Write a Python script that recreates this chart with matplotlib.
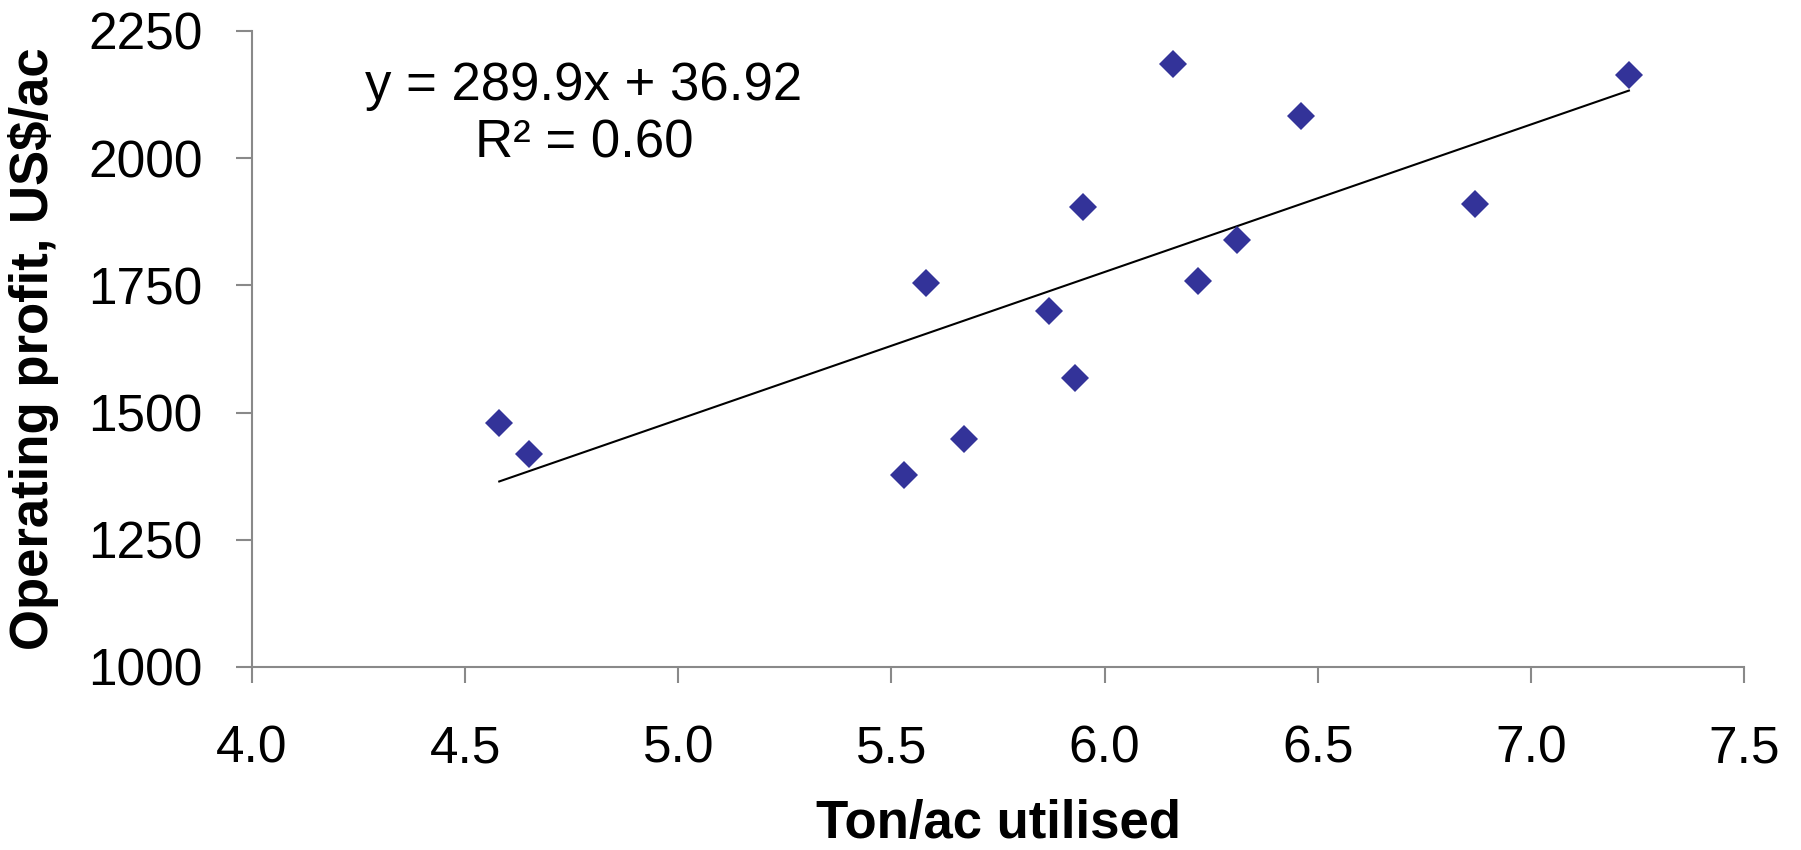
import matplotlib
matplotlib.use("Agg")
import matplotlib.pyplot as plt
import numpy as np

plt.rcParams['font.family'] = ['Liberation Sans', 'DejaVu Sans']

# Data
ton_per_ac = [4.58, 4.65, 5.53, 5.58, 5.67, 5.87, 5.93, 5.95, 6.16, 6.22, 6.31, 6.46, 6.87, 7.23]
profit_usd_per_ac = [1480, 1418, 1378, 1755, 1449, 1700, 1568, 1905, 2186, 1758, 1840, 2083, 1910, 2163]

# Trendline (as displayed on the chart)
slope = 289.9
intercept = 36.92
r_squared = 0.60

x_ticks = [4.0, 4.5, 5.0, 5.5, 6.0, 6.5, 7.0, 7.5]
y_ticks = [1000, 1250, 1500, 1750, 2000, 2250]

fig = plt.figure(figsize=(18.01, 8.5), dpi=100)
ax = fig.add_axes([252/1801, 1 - 667/850, (1744-252)/1801, (667-31)/850])

x = np.array(ton_per_ac)
y = np.array(profit_usd_per_ac)

# trend line over the data range
xl = np.array([x.min(), x.max()])
ax.plot(xl, slope * xl + intercept, color='black', lw=1.5, zorder=2)

ax.plot(x, y, linestyle='none', marker='D', markersize=14.3,
        markerfacecolor='#333399', markeredgecolor='#333399', markeredgewidth=0, zorder=3)

ax.set_xlim(4.0, 7.5)
ax.set_ylim(1000, 2250)
ax.set_xticks(x_ticks)
ax.set_xticklabels([f"{t:.1f}" for t in x_ticks])
ax.set_yticks(y_ticks)
ax.set_yticklabels([str(t) for t in y_ticks])

gray = '#898989'
for s in ['top', 'right']:
    ax.spines[s].set_visible(False)
for s in ['left', 'bottom']:
    ax.spines[s].set_color(gray)
    ax.spines[s].set_linewidth(1.5)

ax.tick_params(axis='both', direction='out', length=11.5, width=1.5, color=gray,
               labelsize=37, labelcolor='black')
ax.tick_params(axis='x', pad=30)
ax.tick_params(axis='y', pad=24)

ax.set_xlabel('Ton/ac utilised', fontsize=38, fontweight='bold', va='bottom')
ax.xaxis.set_label_coords(0.5, (667 - 849) / 636)
ax.set_ylabel('Operating profit, US$/ac', fontsize=38, fontweight='bold')
ax.yaxis.set_label_coords((59 - 252) / 1492, 0.5)

cx = (584 - 252) / 1492
ax.text(cx, (667 - 100) / 636, f"y = {slope}x + {intercept}", transform=ax.transAxes,
        ha='center', va='baseline', fontsize=38)
ax.text(cx, (667 - 158) / 636, f"R² = {r_squared:.2f}", transform=ax.transAxes,
        ha='center', va='baseline', fontsize=38)

fig.savefig('out.png', dpi=100, facecolor='white')
